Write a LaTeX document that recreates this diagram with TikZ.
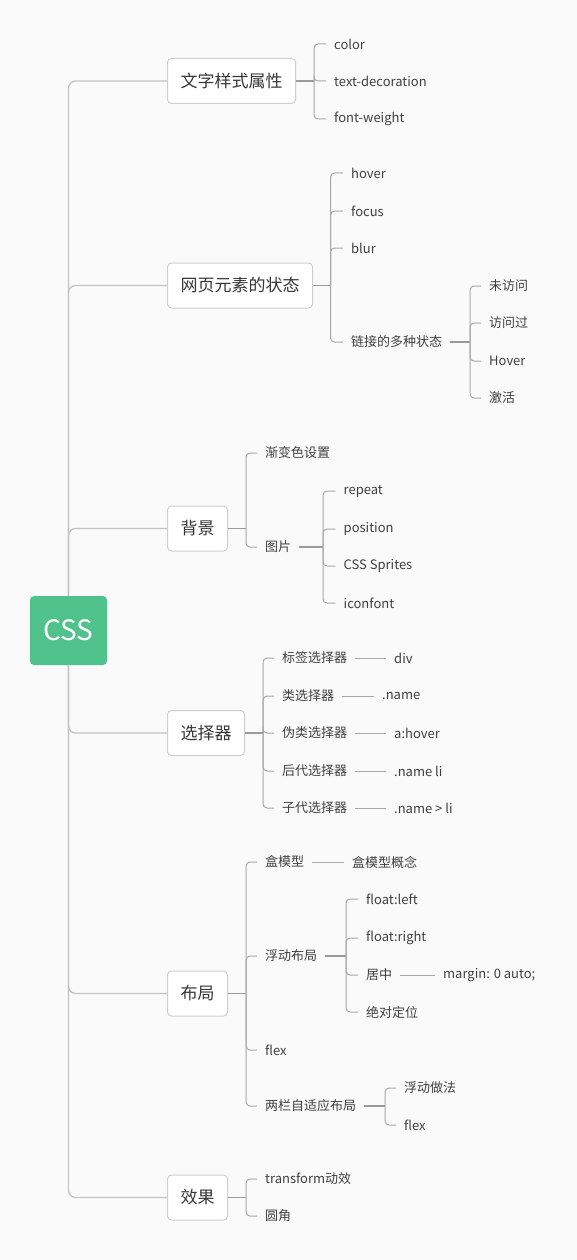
\documentclass[tikz,border=0pt]{standalone}
\usepackage{fontspec}
\setmainfont{Noto Sans CJK SC}
\usetikzlibrary{calc}
\definecolor{bg}{HTML}{FAFAFA}
\definecolor{cssgreen}{HTML}{4FC38B}
\definecolor{txt}{HTML}{404040}
\definecolor{spine}{HTML}{C4C4C4}
\definecolor{brk}{HTML}{A8A8A8}
\definecolor{pcl}{HTML}{9A9A9A}
\definecolor{boxline}{HTML}{CFCFCF}
\begin{document}
\begin{tikzpicture}[x=1pt,y=-1pt,
  topic/.style={draw=boxline, line width=1pt, fill=white, rounded corners=4pt, minimum height=45pt, anchor=west, inner sep=0pt, font=\fontsize{17}{20}\selectfont, text=txt!85!black},
  leaf/.style={anchor=west, inner xsep=8pt, inner ysep=2pt, font=\fontsize{13}{15}\selectfont, text=txt},
  spineline/.style={draw=spine, line width=1.3pt, rounded corners=7pt},
  pline/.style={draw=pcl, line width=1.6pt},
  bline/.style={draw=brk, line width=1pt, rounded corners=4pt},
  sline/.style={draw=brk, line width=1pt}]
\fill[bg] (0,0) rectangle (577,1260);
\useasboundingbox (0,0) rectangle (577,1260);

% root
\node[fill=cssgreen, rounded corners=4pt, minimum width=77pt, minimum height=69pt, inner sep=0pt, text=white, font=\fontsize{28}{32}\selectfont] (root) at (68.5,630.5) {CSS};

% topics
\node[topic, minimum width=128pt] (t1) at (167,81) {文字样式属性};
\node[topic, minimum width=145pt] (t2) at (167,285.5) {网页元素的状态};
\node[topic, minimum width=60pt] (t3) at (167,528.5) {背景};
\node[topic, minimum width=77pt] (t4) at (167,733) {选择器};
\node[topic, minimum width=60pt] (t5) at (167,993.5) {布局};
\node[topic, minimum width=60pt] (t6) at (167,1197.5) {效果};

% spine
\begin{scope}[on background layer/.try]
\end{scope}
\draw[spineline] (root.north) |- (t1.west);
\draw[spineline] (root.north) |- (t2.west);
\draw[spineline] (root.north) |- (t3.west);
\draw[spineline] (root.south) |- (t4.west);
\draw[spineline] (root.south) |- (t5.west);
\draw[spineline] (root.south) |- (t6.west);

% branch 1
\coordinate (j1) at (314,81);
\node[leaf] (c11) at (326,44) {color};
\node[leaf] (c12) at (326,81) {text-decoration};
\node[leaf] (c13) at (326,119) {font-weight};
\draw[pline] (t1.east) -- (j1);
\foreach \c in {c11,c12,c13} \draw[bline] (j1) |- (\c.west);

% branch 2
\coordinate (j2) at (330.5,285.5);
\node[leaf] (c21) at (343,173) {hover};
\node[leaf] (c22) at (343,211) {focus};
\node[leaf] (c23) at (343,248) {blur};
\node[leaf] (c24) at (343,342) {链接的多种状态};
\draw[pline] (t2.east) -- (j2);
\foreach \c in {c21,c22,c23,c24} \draw[bline] (j2) |- (\c.west);
\coordinate (jl) at (470,342);
\node[leaf] (l1) at (481,286) {未访问};
\node[leaf] (l2) at (481,323) {访问过};
\node[leaf] (l3) at (481,361) {Hover};
\node[leaf] (l4) at (481,398) {激活};
\draw[pline] (c24.east) -- (jl);
\foreach \c in {l1,l2,l3,l4} \draw[bline] (jl) |- (\c.west);

% branch 3
\coordinate (j3) at (246,528.5);
\node[leaf] (c31) at (257,453) {渐变色设置};
\node[leaf] (c32) at (257,547) {图片};
\draw[pline] (t3.east) -- (j3);
\foreach \c in {c31,c32} \draw[bline] (j3) |- (\c.west);
\coordinate (jp) at (323,547);
\node[leaf] (p1) at (335.5,491) {repeat};
\node[leaf] (p2) at (335.5,529) {position};
\node[leaf] (p3) at (335.5,566) {CSS Sprites};
\node[leaf] (p4) at (335.5,603) {iconfont};
\draw[pline] (c32.east) -- (jp);
\foreach \c in {p1,p2,p3,p4} \draw[bline] (jp) |- (\c.west);

% branch 4
\coordinate (j4) at (263,733);
\node[leaf] (s1) at (274,658) {标签选择器};
\node[leaf] (s2) at (274,696) {类选择器};
\node[leaf] (s3) at (274,733) {伪类选择器};
\node[leaf] (s4) at (274,771) {后代选择器};
\node[leaf] (s5) at (274,808) {子代选择器};
\draw[pline] (t4.east) -- (j4);
\foreach \c in {s1,s2,s3,s4,s5} \draw[bline] (j4) |- (\c.west);
\node[leaf] (e1) at (386,658) {div};
\node[leaf] (e2) at (374,696) {.name};
\node[leaf] (e3) at (386,733) {a:hover};
\node[leaf] (e4) at (386,771) {.name li};
\node[leaf] (e5) at (386,808) {.name > li};
\draw[sline] (s1.east) -- (e1.west);
\draw[sline] (s2.east) -- (e2.west);
\draw[sline] (s3.east) -- (e3.west);
\draw[sline] (s4.east) -- (e4.west);
\draw[sline] (s5.east) -- (e5.west);

% branch 5
\coordinate (j5) at (246,993.5);
\node[leaf] (c51) at (257,862) {盒模型};
\node[leaf] (c52) at (257,956) {浮动布局};
\node[leaf] (c53) at (257,1050) {flex};
\node[leaf] (c54) at (257,1106) {两栏自适应布局};
\draw[pline] (t5.east) -- (j5);
\foreach \c in {c51,c52,c53,c54} \draw[bline] (j5) |- (\c.west);
\node[leaf] (bm) at (344,862) {盒模型概念};
\draw[sline] (c51.east) -- (bm.west);
\coordinate (jf) at (346,956);
\node[leaf] (f1) at (358,899) {float:left};
\node[leaf] (f2) at (358,938) {float:right};
\node[leaf] (f3) at (358,975) {居中};
\node[leaf] (f4) at (358,1012) {绝对定位};
\draw[pline] (c52.east) -- (jf);
\foreach \c in {f1,f2,f3,f4} \draw[bline] (jf) |- (\c.west);
\node[leaf] (mg) at (435,975) {margin: 0 auto;};
\draw[sline] (f3.east) -- (mg.west);
\coordinate (jt) at (385,1106);
\node[leaf] (w1) at (396,1088) {浮动做法};
\node[leaf] (w2) at (396,1125) {flex};
\draw[pline] (c54.east) -- (jt);
\foreach \c in {w1,w2} \draw[bline] (jt) |- (\c.west);

% branch 6
\coordinate (j6) at (246,1197.5);
\node[leaf] (c61) at (257,1179) {transform动效};
\node[leaf] (c62) at (257,1216) {圆角};
\draw[pline] (t6.east) -- (j6);
\foreach \c in {c61,c62} \draw[bline] (j6) |- (\c.west);
\end{tikzpicture}
\end{document}
